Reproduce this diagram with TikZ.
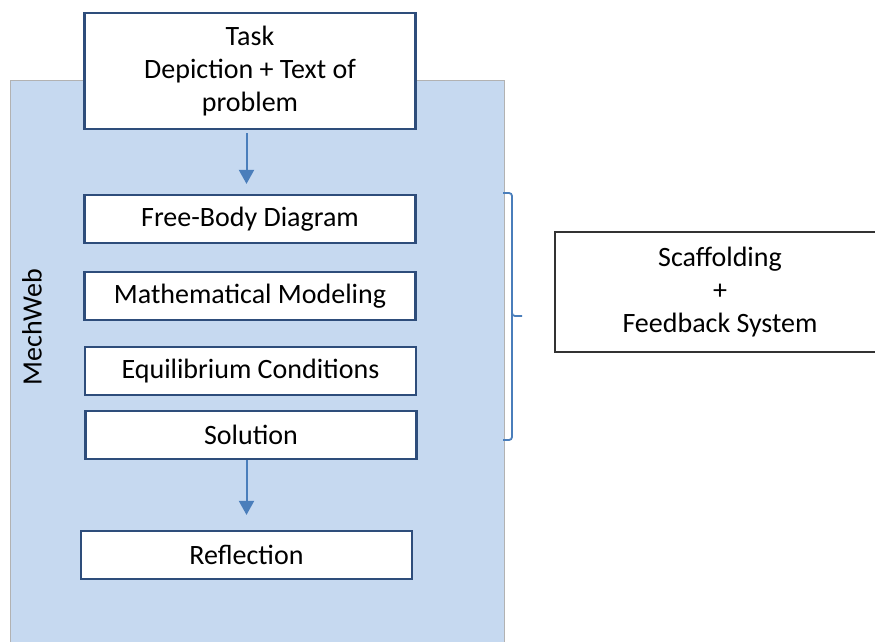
\documentclass[tikz,border=0pt]{standalone}
\usepackage{fontspec}
\setmainfont{Carlito}
\usetikzlibrary{positioning, arrows.meta}

\definecolor{panelblue}{HTML}{C6D9F0}
\definecolor{boxblue}{HTML}{2E4D7B}
\definecolor{linkblue}{HTML}{4A7EBB}

\begin{document}
\begin{tikzpicture}[
    x=1pt, y=-1pt,
    step box/.style={
        draw=boxblue, fill=white, rectangle, line width=2.2pt,
        minimum width=331pt, minimum height=48pt, inner sep=0pt,
        font=\fontsize{28}{33}\selectfont, align=center
    },
    side box/.style={
        draw=black!80, fill=white, rectangle, line width=1.3pt,
        minimum width=330pt, minimum height=120pt,
        font=\fontsize{28}{33}\selectfont, align=center
    },
    flow/.style={-{Triangle[width=15pt,length=14pt]}, line width=2pt, draw=linkblue},
    brace line/.style={line width=1.8pt, draw=linkblue, rounded corners=3pt}
]

% Bounding box (Reference size)
\useasboundingbox (0,0) rectangle (875,642);

% ------------------------------------------------------------------------------
% 1. PANEL MECHWEB
% ------------------------------------------------------------------------------
\draw[fill=panelblue, draw=black!30, line width=1pt] (10,660) -- (10,80) -- (504,80) -- (504,660);
\node[rotate=90, font=\fontsize{28}{33}\selectfont] (mechweb) at (32,327) {MechWeb};

% ------------------------------------------------------------------------------
% 2. PASOS
% ------------------------------------------------------------------------------
\node[step box, minimum height=116pt] (task) at (250,71) {Task\\Depiction + Text of\\problem};
\node[step box] (fbd) at (250,219) {Free-Body Diagram};
\node[step box] (model) at (250,296) {Mathematical Modeling};
\node[step box] (equil) at (250.5,371) {Equilibrium Conditions};
\node[step box] (sol) at (251,435) {Solution};
\node[step box] (refl) at (246.5,555) {Reflection};

% ------------------------------------------------------------------------------
% 3. FLECHAS
% ------------------------------------------------------------------------------
\draw[flow] ([yshift=-3pt]task.south -| refl.north) -- ([yshift=10pt]fbd.north -| refl.north);
\draw[flow] (sol.south -| refl.north) -- ([yshift=15pt]refl.north);

% ------------------------------------------------------------------------------
% 4. LLAVE + SISTEMA DE RETROALIMENTACION
% ------------------------------------------------------------------------------
\node[side box] (scaff) at (720,292) {Scaffolding\\+\\Feedback System};
\coordinate (brace top) at (503,193);
\coordinate (brace bot) at (503,440);
\coordinate (brace tip) at (522,316);
\draw[brace line] (brace top) -- (512,193) -- (512,316) -- (brace tip);
\draw[brace line] (512,300) -- (512,440) -- (brace bot);

\end{tikzpicture}
\end{document}
